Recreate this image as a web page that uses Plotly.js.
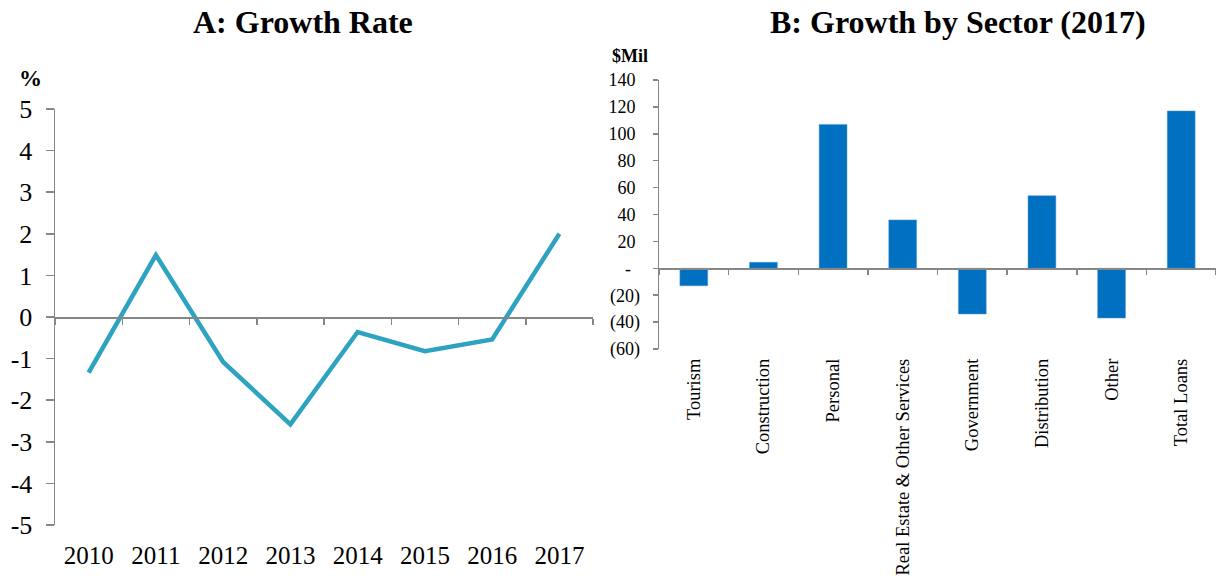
<!DOCTYPE html>
<html><head><meta charset="utf-8">
<script src="https://cdn.plot.ly/plotly-3.0.1.min.js"></script>
<style>html,body{margin:0;padding:0;background:#fff}#chart{width:1216px;height:578px}</style>
</head><body><div id="chart"></div>
<script>
// ---- data ----
const years = ['2010','2011','2012','2013','2014','2015','2016','2017'];
const growthRate = [-1.34, 1.49, -1.08, -2.58, -0.36, -0.82, -0.54, 2.0];
const sectors = ['Tourism','Construction','Personal','Real Estate & Other Services','Government','Distribution','Other','Total Loans'];
const sectorGrowth = [-13, 4.5, 107, 36, -34, 54, -37, 117];
const yTicksA = [-5,-4,-3,-2,-1,0,1,2,3,4,5];
const yTickTextA = ['-5','-4','-3','-2','-1','0','1','2','3','4','5'];
const yTicksB = [-60,-40,-20,0,20,40,60,80,100,120,140];
const yTickTextB = ['(60)','(40)','(20)','-\u00a0\u00a0','20\u00a0','40\u00a0','60\u00a0','80\u00a0','100\u00a0','120\u00a0','140\u00a0'];

// ---- layout helpers ----
const W = 1216, H = 578;
const px = v => v / W;
const py = v => 1 - v / H;
const axisColor = '#868686';
const fontFam = '"Liberation Serif", "Times New Roman", serif';

const domAx = [px(55), px(593)], domAy = [py(525), py(109)];
const domBx = [px(659), px(1216)], domBy = [py(349), py(80)];
const rangeA = [-5, 5], rangeB = [-60, 140];
const zeroA = domAy[0] + (0 - rangeA[0]) / (rangeA[1] - rangeA[0]) * (domAy[1] - domAy[0]);
const zeroB = domBy[0] + (0 - rangeB[0]) / (rangeB[1] - rangeB[0]) * (domBy[1] - domBy[0]);

const traces = [
  {type:'scatter', mode:'lines', x: years, y: growthRate, xaxis:'x', yaxis:'y',
   line:{color:'#2EA3C1', width:4.5}, hoverinfo:'x+y', showlegend:false},
  {type:'scatter', mode:'none', x: years, y: years.map(() => 0), xaxis:'x2', yaxis:'y',
   hoverinfo:'skip', showlegend:false},
  {type:'bar', x: sectors, y: sectorGrowth, xaxis:'x3', yaxis:'y3',
   marker:{color:'#0070C0', line:{color:'#5B9BD5', width:0.5}}, hoverinfo:'x+y', showlegend:false},
  {type:'scatter', mode:'none', x: sectors, y: sectors.map(() => 0), xaxis:'x4', yaxis:'y3',
   hoverinfo:'skip', showlegend:false}
];

const layout = {
  width: W, height: H,
  margin:{l:0, r:0, t:0, b:0},
  paper_bgcolor:'#fff', plot_bgcolor:'rgba(0,0,0,0)',
  font:{family: fontFam, color:'#000'},
  showlegend:false,
  bargap: 0.6,
  xaxis:{domain: domAx, anchor:'y', type:'category', range:[-0.5, 7.5],
    showline:false, ticks:'', showgrid:false, zeroline:false,
    tickfont:{size:25, family: fontFam}, ticklabelstandoff: 13},
  xaxis2:{overlaying:'x', anchor:'free', position: zeroA, type:'category', range:[-0.5, 7.5],
    showline:true, linecolor: axisColor, linewidth:1.5, ticks:'outside', tickson:'boundaries',
    ticklen:6, tickcolor: axisColor, tickwidth:1.5, showticklabels:false, showgrid:false, zeroline:false},
  yaxis:{domain: domAy, anchor:'x', range: rangeA, tickvals: yTicksA, ticktext: yTickTextA,
    showline:true, linecolor: axisColor, linewidth:1.5, ticks:'outside', ticklen:8,
    tickcolor: axisColor, tickwidth:1.5, showgrid:false, zeroline:false,
    tickfont:{size:26, family: fontFam}, ticklabelstandoff: 8},
  xaxis3:{domain: domBx, anchor:'y3', type:'category', range:[-0.5, 7.5],
    showline:false, ticks:'', showgrid:false, zeroline:false, tickangle:-90,
    tickfont:{size:18.5, family: fontFam}, ticklabelstandoff: 5},
  xaxis4:{overlaying:'x3', anchor:'free', position: zeroB, type:'category', range:[-0.5, 7.5],
    showline:true, linecolor: axisColor, linewidth:1.5, ticks:'outside', tickson:'boundaries',
    ticklen:5, tickcolor: axisColor, tickwidth:1.5, showticklabels:false, showgrid:false, zeroline:false},
  yaxis3:{domain: domBy, anchor:'x3', range: rangeB, tickvals: yTicksB, ticktext: yTickTextB,
    showline:true, linecolor: axisColor, linewidth:1.5, ticks:'outside', ticklen:5,
    tickcolor: axisColor, tickwidth:1.5, showgrid:false, zeroline:false,
    tickfont:{size:18, family: fontFam}, ticklabelstandoff: 9},
  annotations:[
    {text:'<b>A: Growth Rate</b>', xref:'paper', yref:'paper', x: px(303), y: py(22),
     xanchor:'center', yanchor:'middle', showarrow:false, font:{size:32, family: fontFam}},
    {text:'<b>B: Growth by Sector (2017)</b>', xref:'paper', yref:'paper', x: px(958), y: py(22),
     xanchor:'center', yanchor:'middle', showarrow:false, font:{size:32, family: fontFam}},
    {text:'<b>%</b>', xref:'paper', yref:'paper', x: px(30), y: py(78),
     xanchor:'center', yanchor:'middle', showarrow:false, font:{size:23, family: fontFam}},
    {text:'<b>$Mil</b>', xref:'paper', yref:'paper', x: px(630), y: py(56),
     xanchor:'center', yanchor:'middle', showarrow:false, font:{size:18, family: fontFam}}
  ]
};

Plotly.newPlot('chart', traces, layout, {displayModeBar:false, staticPlot:true});
</script></body></html>
